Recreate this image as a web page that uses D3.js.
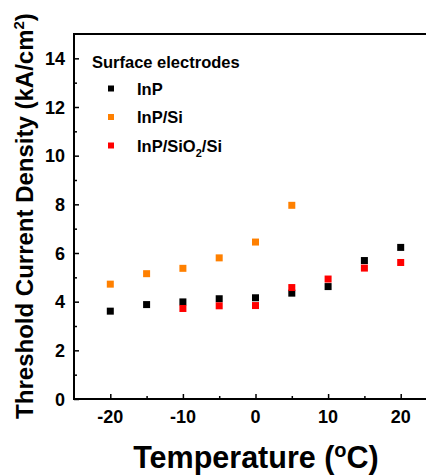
<!DOCTYPE html>
<html>
<head>
<meta charset="utf-8">
<script src="https://cdn.jsdelivr.net/npm/d3@7"></script>
<style>
  body { margin: 0; background: #fff; }
  svg { font-family: "Liberation Sans", Arial, sans-serif; font-weight: bold; }
</style>
</head>
<body>
<svg id="chart" width="426" height="476"></svg>
<script>
// temperatures (oC)
const tempInP = [-20, -15, -10, -5, 0, 5, 10, 15, 20];
const jInP = [3.61, 3.88, 3.99, 4.12, 4.16, 4.35, 4.62, 5.69, 6.23];

const tempInPSi = [-20, -15, -10, -5, 0, 5];
const jInPSi = [4.72, 5.15, 5.37, 5.8, 6.45, 7.96];

const tempInPSiO2Si = [-10, -5, 0, 5, 10, 15, 20];
const jInPSiO2Si = [3.72, 3.83, 3.84, 4.58, 4.93, 5.38, 5.61];

const xTicks = [-20, -10, 0, 10, 20];
const yTicks = [0, 2, 4, 6, 8, 10, 12, 14];

const svg = d3.select("#chart");

const plotLeft = 74, plotTop = 34, plotBottom = 399, plotRight = 437;
const xScale = d3.scaleLinear().domain([-25, 25]).range([plotLeft, plotRight]);
const yScale = d3.scaleLinear().domain([0, 15]).range([plotBottom, plotTop]);

// frame top line
svg.append("line")
    .attr("x1", plotLeft).attr("x2", plotRight)
    .attr("y1", plotTop).attr("y2", plotTop)
    .attr("stroke", "black").attr("stroke-width", 2);

// x axis, ticks inward
svg.append("g")
    .attr("transform", `translate(0, ${plotBottom})`)
    .call(d3.axisTop(xScale).tickValues(xTicks).tickSize(5).tickFormat(""))
    .call(g => g.select(".domain").attr("stroke-width", 2).attr("d", `M${plotLeft - 1},0H${plotRight}`))
    .call(g => g.selectAll(".tick line").attr("stroke-width", 1.5));
svg.append("g")
    .attr("transform", `translate(0, ${plotBottom})`)
    .call(d3.axisTop(xScale).tickValues([-15, -5, 5, 15]).tickSize(3).tickFormat(""))
    .call(g => g.select(".domain").remove())
    .call(g => g.selectAll(".tick line").attr("stroke-width", 1.5));
svg.append("g")
    .selectAll("text")
    .data(xTicks)
    .join("text")
    .attr("x", d => xScale(d))
    .attr("y", plotBottom + 24)
    .attr("text-anchor", "middle")
    .attr("font-size", 18)
    .text(d => d);

// y axis, ticks inward
svg.append("g")
    .attr("transform", `translate(${plotLeft}, 0)`)
    .call(d3.axisRight(yScale).tickValues(yTicks).tickSize(5).tickFormat(""))
    .call(g => g.select(".domain").attr("stroke-width", 2).attr("d", `M0,${plotTop - 1}V${plotBottom + 1}`))
    .call(g => g.selectAll(".tick line").attr("stroke-width", 1.5));
svg.append("g")
    .attr("transform", `translate(${plotLeft}, 0)`)
    .call(d3.axisRight(yScale).tickValues([1, 3, 5, 7, 9, 11, 13]).tickSize(3).tickFormat(""))
    .call(g => g.select(".domain").remove())
    .call(g => g.selectAll(".tick line").attr("stroke-width", 1.5));
svg.append("g")
    .selectAll("text")
    .data(yTicks)
    .join("text")
    .attr("x", plotLeft - 9)
    .attr("y", d => yScale(d) + 6.5)
    .attr("text-anchor", "end")
    .attr("font-size", 18)
    .text(d => d);

// axis titles
const yTitle = svg.append("text")
    .attr("transform", `translate(33, 216) rotate(-90)`)
    .attr("text-anchor", "middle")
    .attr("font-size", 24);
yTitle.append("tspan").text("Threshold Current Density (kA/cm");
yTitle.append("tspan").attr("font-size", 15).attr("dy", -9).text("2");
yTitle.append("tspan").attr("dy", 9).text(")");

const xTitle = svg.append("text")
    .attr("x", 256)
    .attr("y", 468)
    .attr("text-anchor", "middle")
    .attr("font-size", 30.5);
xTitle.append("tspan").text("Temperature (");
xTitle.append("tspan").attr("font-size", 20).attr("dy", -11).text("o");
xTitle.append("tspan").attr("dy", 11).text("C)");

// series
const series = [
    { name: "InP", x: tempInP, y: jInP, color: "#000000" },
    { name: "InP/Si", x: tempInPSi, y: jInPSi, color: "#FF8000" },
    { name: "InP/SiO2/Si", x: tempInPSiO2Si, y: jInPSiO2Si, color: "#FF0000" }
];
const ms = 7;
series.forEach(s => {
    svg.append("g")
        .selectAll("rect")
        .data(s.x.map((t, i) => [t, s.y[i]]))
        .join("rect")
        .attr("x", d => xScale(d[0]) - ms / 2)
        .attr("y", d => yScale(d[1]) - ms / 2)
        .attr("width", ms)
        .attr("height", ms)
        .attr("fill", s.color);
});

// legend
const legend = svg.append("g");
legend.append("text")
    .attr("x", 92).attr("y", 68)
    .attr("font-size", 16.5)
    .text("Surface electrodes");
series.forEach((s, i) => {
    const ly = 88.5 + i * 28.5;
    legend.append("rect")
        .attr("x", 108).attr("y", ly - 3)
        .attr("width", 6).attr("height", 6)
        .attr("fill", s.color);
    const t = legend.append("text")
        .attr("x", 137).attr("y", ly + 6)
        .attr("font-size", 16.5);
    if (s.name === "InP/SiO2/Si") {
        t.append("tspan").text("InP/SiO");
        t.append("tspan").attr("font-size", 11).attr("dy", 5).text("2");
        t.append("tspan").attr("dy", -5).text("/Si");
    } else {
        t.text(s.name);
    }
});
</script>
</body>
</html>
